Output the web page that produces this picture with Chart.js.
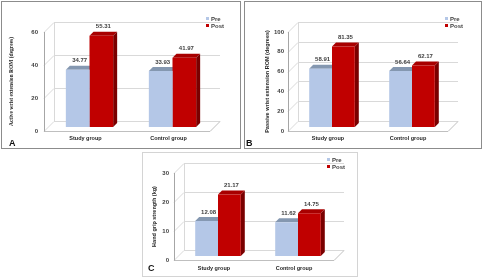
<!DOCTYPE html>
<html>
<head>
<meta charset="utf-8">
<script src="https://cdn.jsdelivr.net/npm/chart.js@4.4.1/dist/chart.umd.min.js"></script>
<style>
body { margin: 0; background: #fff; width: 484px; height: 277px; overflow: hidden; position: relative; font-family: "Liberation Sans", Arial, sans-serif; }
.panel { position: absolute; box-sizing: border-box; }
.panel canvas { position: absolute; left: 0; top: 0; }
.lg { position: absolute; font-size: 6px; font-weight: bold; color: #404040; line-height: 7px; white-space: nowrap; }
.lg i { display: inline-block; width: 3px; height: 3px; margin-right: 2px; vertical-align: 1px; }
.tag { position: absolute; font-size: 9px; font-weight: bold; color: #111; }
</style>
</head>
<body>
<div class="panel" id="pA" style="left:1px;top:1px;width:240px;height:148px;border:1px solid #8c8c8c"><canvas id="cA" width="240" height="148"></canvas></div>
<div class="panel" id="pB" style="left:244px;top:1px;width:238px;height:148px;border:1px solid #8c8c8c"><canvas id="cB" width="238" height="148"></canvas></div>
<div class="panel" id="pC" style="left:142px;top:152px;width:216px;height:125px;border:1px solid #d4d4d4"><canvas id="cC" width="216" height="125"></canvas></div>
<div class="tag" style="left:9px;top:138px">A</div>
<div class="tag" style="left:246px;top:138px">B</div>
<div class="tag" style="left:148px;top:263px">C</div>

<script>
// values
const groups = ['Study group', 'Control group'];
const seriesNames = ['Pre', 'Post'];
const activePre = [34.77, 33.93];
const activePost = [55.31, 41.97];
const passivePre = [58.91, 56.64];
const passivePost = [81.35, 62.17];
const gripPre = [12.08, 11.62];
const gripPost = [21.17, 14.75];
const activeTicks = [0, 20, 40, 60];
const passiveTicks = [0, 20, 40, 60, 80, 100];
const gripTicks = [0, 10, 20, 30];

const preColors = { front: '#b4c7e7', top: '#8497b0', side: '#8ea9db' };
const postColors = { front: '#c00000', top: '#a80000', side: '#7a0000' };

const WALL = 10;   // depth of the back wall
const SHIFT = 4;   // bars stand in the middle of the floor
const DEPTH = 4;   // depth of one bar

const box3d = {
	id: 'box3d',
	beforeDatasetsDraw(chart) {
		const ctx = chart.ctx;
		const a = chart.chartArea;
		const y = chart.scales.y;
		ctx.save();
		ctx.lineWidth = 1;
		ctx.strokeStyle = '#d9d9d9';
		y.ticks.forEach(function(t) {
			const py = Math.round(y.getPixelForValue(t.value)) + 0.5;
			ctx.beginPath();
			ctx.moveTo(a.left, py);
			ctx.lineTo(a.left + WALL, py - WALL);
			ctx.lineTo(a.right + WALL, py - WALL);
			ctx.stroke();
		});
		const y0 = Math.round(y.getPixelForValue(0)) + 0.5;
		ctx.beginPath();
		ctx.moveTo(a.left + WALL + 0.5, y0 - WALL);
		ctx.lineTo(a.left + WALL + 0.5, Math.round(y.getPixelForValue(y.max)) + 0.5 - WALL);
		ctx.stroke();
		ctx.strokeStyle = '#bfbfbf';
		ctx.beginPath();
		ctx.moveTo(a.left, y0);
		ctx.lineTo(a.right, y0);
		ctx.lineTo(a.right + WALL, y0 - WALL);
		ctx.stroke();
		ctx.strokeStyle = '#a6a6a6';
		ctx.beginPath();
		ctx.moveTo(Math.round(a.left) + 0.5, Math.round(y.getPixelForValue(y.max)));
		ctx.lineTo(Math.round(a.left) + 0.5, y0);
		ctx.stroke();
		ctx.restore();

		ctx.save();
		ctx.translate(SHIFT, -SHIFT);
		chart.data.datasets.forEach(function(ds, i) {
			chart.getDatasetMeta(i).data.forEach(function(b) {
				const l = b.x - b.width / 2, r = b.x + b.width / 2;
				ctx.fillStyle = ds.topColor;
				ctx.beginPath();
				ctx.moveTo(l, b.y);
				ctx.lineTo(l + DEPTH, b.y - DEPTH);
				ctx.lineTo(r + DEPTH, b.y - DEPTH);
				ctx.lineTo(r, b.y);
				ctx.fill();
				ctx.fillStyle = ds.sideColor;
				ctx.beginPath();
				ctx.moveTo(r, b.y);
				ctx.lineTo(r + DEPTH, b.y - DEPTH);
				ctx.lineTo(r + DEPTH, b.base - DEPTH);
				ctx.lineTo(r, b.base);
				ctx.fill();
			});
		});
	},
	afterDatasetsDraw(chart) {
		const ctx = chart.ctx;
		ctx.font = 'bold 6px "Liberation Sans"';
		ctx.fillStyle = '#404040';
		ctx.textAlign = 'center';
		ctx.textBaseline = 'bottom';
		chart.data.datasets.forEach(function(ds, i) {
			chart.getDatasetMeta(i).data.forEach(function(b, j) {
				ctx.fillText(ds.data[j].toFixed(2), b.x + DEPTH / 2, b.y - DEPTH - 2);
			});
		});
		ctx.restore();
	}
};

function drawPanel(id, pre, post, ticks, title, lay) {
	const ctx = document.getElementById(id).getContext('2d');
	const yMax = ticks[ticks.length - 1];
	return new Chart(ctx, {
		type: 'bar',
		data: {
			labels: groups,
			datasets: [{
				label: seriesNames[0],
				data: pre,
				backgroundColor: preColors.front,
				topColor: preColors.top,
				sideColor: preColors.side
			}, {
				label: seriesNames[1],
				data: post,
				backgroundColor: postColors.front,
				topColor: postColors.top,
				sideColor: postColors.side
			}]
		},
		options: {
			responsive: false,
			animation: false,
			barPercentage: 1,
			categoryPercentage: 0.57,
			layout: {
				padding: { left: 0, top: lay.top, right: lay.right, bottom: lay.bottom }
			},
			plugins: {
				legend: { display: false },
				tooltip: { enabled: false }
			},
			scales: {
				x: {
					grid: { display: false, drawTicks: false },
					border: { display: false },
					ticks: {
						maxRotation: 0,
						autoSkip: false,
						padding: lay.xPad,
						color: '#262626',
						font: { family: 'Liberation Sans', size: 5.5, weight: 'bold' }
					},
					afterFit: function(s) { s.height = 12; }
				},
				y: {
					min: 0,
					max: yMax,
					afterBuildTicks: function(s) { s.ticks = ticks.map(v => ({ value: v })); },
					grid: { display: false, drawTicks: false },
					border: { display: false },
					ticks: {
						padding: lay.yPad,
						color: '#404040',
						font: { family: 'Liberation Sans', size: 6, weight: 'bold' }
					},
					title: {
						display: true,
						text: title,
						color: '#262626',
						padding: { top: lay.titlePad, bottom: 0 },
						font: { family: lay.titleFont, size: 5.5, weight: 'bold' }
					},
					afterFit: function(s) { s.width = lay.yWidth; }
				}
			}
		},
		plugins: [box3d]
	});
}

function addLegend(left, top) {
	const colors = [preColors.front, postColors.front];
	const el = document.createElement('div');
	el.className = 'lg';
	el.style.left = left + 'px';
	el.style.top = top + 'px';
	el.innerHTML = seriesNames.map((n, i) => '<div><i style="background:' + colors[i] + '"></i>' + n + '</div>').join('');
	document.body.appendChild(el);
}

drawPanel('cA', activePre, activePost, activeTicks, 'Active wrist extension ROM (degrees)',
	{ top: 30, right: 32, bottom: 7, yWidth: 42, yPad: 6, xPad: 4, titlePad: 6, titleFont: 'Liberation Serif' });
drawPanel('cB', passivePre, passivePost, passiveTicks, 'Passive wrist extension ROM (degrees)',
	{ top: 30, right: 35, bottom: 7, yWidth: 43, yPad: 4, xPad: 4, titlePad: 19, titleFont: 'Liberation Sans' });
drawPanel('cC', gripPre, gripPost, gripTicks, 'Hand grip strength (kg)',
	{ top: 20, right: 25, bottom: 6, yWidth: 31, yPad: 5, xPad: 5, titlePad: 8, titleFont: 'Liberation Sans' });

addLegend(206, 16);
addLegend(445, 16);
addLegend(327, 157);
</script>
</body>
</html>
